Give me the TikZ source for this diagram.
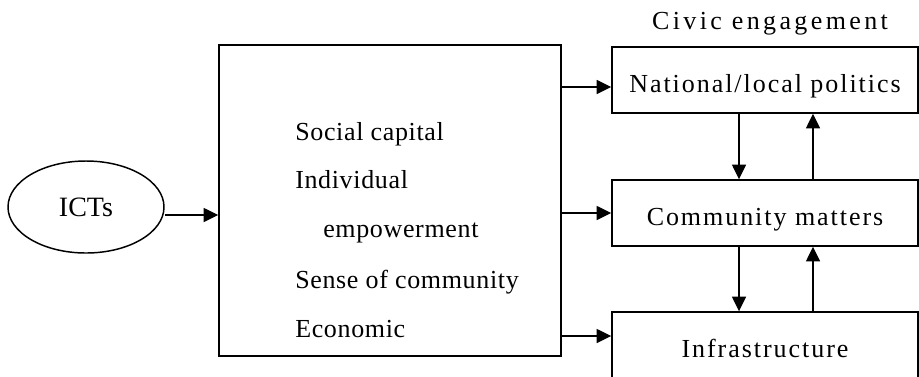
\documentclass[tikz,border=0pt]{standalone}
\usepackage{fontspec}
\setmainfont{Liberation Serif}
\usetikzlibrary{shapes.geometric,arrows.meta}
\begin{document}
\begin{tikzpicture}[
	x=0.75pt, y=-0.75pt,
	box/.style = {draw, line width=1.1pt, minimum width=229.5pt, minimum height=49.5pt, inner sep=0pt,
		text height=18pt, text depth=0pt, font=\fontsize{19.5}{23}\selectfont\addfontfeature{LetterSpace=7.5}},
	lbl/.style = {anchor=base west, inner sep=0pt, font=\fontsize{19.5}{23}\selectfont\addfontfeature{LetterSpace=2.5}},
	arr/.style = {-{Triangle[length=11pt, width=10.5pt]}, line width=1.1pt}]
	
	\def \dn {-19.5pt} % offset of the downward arrows
	\def \up {36pt}    % offset of the upward arrows
	
	\useasboundingbox (0,0) rectangle (919,376);
	\clip (0,0) rectangle (919,376);
	
	\node[draw, ellipse, line width=1.1pt, minimum width=117pt, minimum height=69pt, inner sep=0pt,
		font=\fontsize{21}{25}\selectfont] (ict) at (86,207) {ICTs};
	\node[draw, line width=1.1pt, minimum width=256.5pt, minimum height=233.25pt] (big) at (390,200.5) {};
	
	\node[lbl] (soc) at (295,140) {Social capital};
	\node[lbl] (ind) at (295,188) {Individual};
	\node[lbl] (emp) at (323,237) {empowerment};
	\node[lbl] (sen) at (295,288) {Sense of community};
	\node[lbl] (eco) at (295,337) {Economic};
	
	\node[anchor=base, inner sep=0pt, font=\fontsize{19.5}{23}\selectfont\addfontfeature{LetterSpace=13}]
		(civic) at (770,29) {Civic engagement};
	\node[box] (pol) at (765,80) {National/local politics};
	\node[box] (com) at (765,213) {Community matters};
	\node[box, minimum height=55.5pt, text height=12pt] (inf) at (765,349) {Infrastructure};
	
	\draw[arr] ([yshift=-6pt]ict.east) -- ([yshift=-6pt]ict.east -| big.west);
	\draw[arr] ([yshift=-5.25pt]pol.west -| big.east) -- ([yshift=-5.25pt]pol.west);
	\draw[arr] (com.west -| big.east) -- (com.west);
	\draw[arr] ([yshift=9.75pt]inf.west -| big.east) -- ([yshift=9.75pt]inf.west);
	
	\draw[arr] ([xshift=\dn]pol.south) -- ([xshift=\dn]com.north);
	\draw[arr] ([xshift=\up]com.north) -- ([xshift=\up]pol.south);
	\draw[arr] ([xshift=\dn]com.south) -- ([xshift=\dn]inf.north);
	\draw[arr] ([xshift=\up]inf.north) -- ([xshift=\up]com.south);
\end{tikzpicture}
\end{document}
